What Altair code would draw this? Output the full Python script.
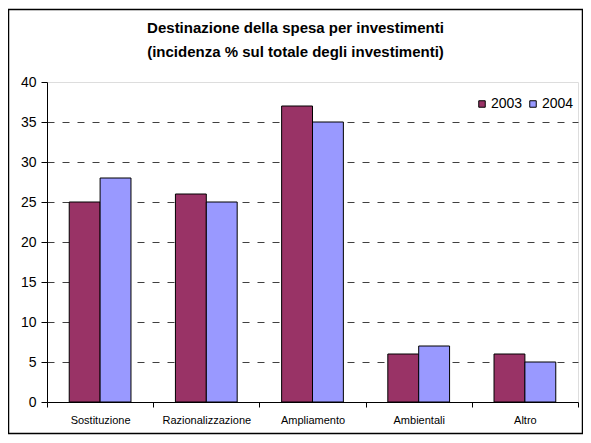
import altair as alt
import pandas as pd

categories = ["Sostituzione", "Razionalizzazione", "Ampliamento", "Ambientali", "Altro"]
years = ["2003", "2004"]
values_2003 = [25, 26, 37, 6, 6]
values_2004 = [28, 25, 35, 7, 5]
y_ticks = [0, 5, 10, 15, 20, 25, 30, 35, 40]

rows = []
for c, a, b in zip(categories, values_2003, values_2004):
    rows.append({"cat": c, "anno": "2003", "val": a})
    rows.append({"cat": c, "anno": "2004", "val": b})
df = pd.DataFrame(rows)

FONT = "Liberation Sans"
W, H = 531, 320

bars = alt.Chart(df).mark_bar(stroke="black", strokeWidth=1).encode(
    x=alt.X("cat:N", sort=categories, title=None,
            scale=alt.Scale(paddingInner=0, paddingOuter=0),
            axis=alt.Axis(labelAngle=0, tickBand="extent", tickSize=5,
                          tickColor="black", domainColor="black",
                          labelFontSize=11, labelPadding=7, labelColor="black",
                          labelFont=FONT)),
    xOffset=alt.XOffset("anno:N", sort=years,
                        scale=alt.Scale(paddingInner=0, paddingOuter=0.72)),
    y=alt.Y("val:Q", title=None,
            scale=alt.Scale(domain=[0, 40], nice=False),
            axis=alt.Axis(values=y_ticks, tickSize=6, tickColor="black",
                          domainColor="black", labelFontSize=14,
                          labelPadding=5, labelColor="black", labelFont=FONT,
                          grid=True, gridColor="#404040", gridDash=[7, 8],
                          gridOpacity=alt.condition("datum.value >= 40 || datum.value <= 0",
                                                    alt.value(0), alt.value(1)))),
    color=alt.Color("anno:N", sort=years,
                    scale=alt.Scale(domain=years, range=["#993366", "#9999FF"]),
                    legend=alt.Legend(title=None, orient="none", legendX=428, legendY=15,
                                      direction="horizontal", symbolType="square",
                                      symbolSize=42, symbolStrokeColor="black",
                                      symbolStrokeWidth=1, labelFontSize=14,
                                      labelFont=FONT, labelColor="black",
                                      labelOffset=2, columnPadding=3)),
)

border = alt.Chart(alt.Data(values=[{"a": 1}])).mark_rect(
    fill=None, stroke="black", strokeWidth=1.5
).encode(
    x=alt.value(-38.5), x2=alt.value(535.5), y=alt.value(-72.5), y2=alt.value(351.5)
)

chart = alt.layer(bars, border).properties(
    width=W, height=H,
    title=alt.Title(["Destinazione della spesa per investimenti",
                     "(incidenza % sul totale degli investimenti)"],
                    font=FONT, fontSize=15, fontWeight="bold", color="black",
                    anchor="middle", frame="bounds", lineHeight=24, offset=-51),
    autosize=alt.AutoSizeParams(type="none"),
    padding={"left": 39, "top": 74, "right": 5, "bottom": 33},
).configure_view(stroke="#808080", strokeWidth=1).configure(background="white")

chart.save("out.html", embed_options={"renderer": "svg", "actions": False})
